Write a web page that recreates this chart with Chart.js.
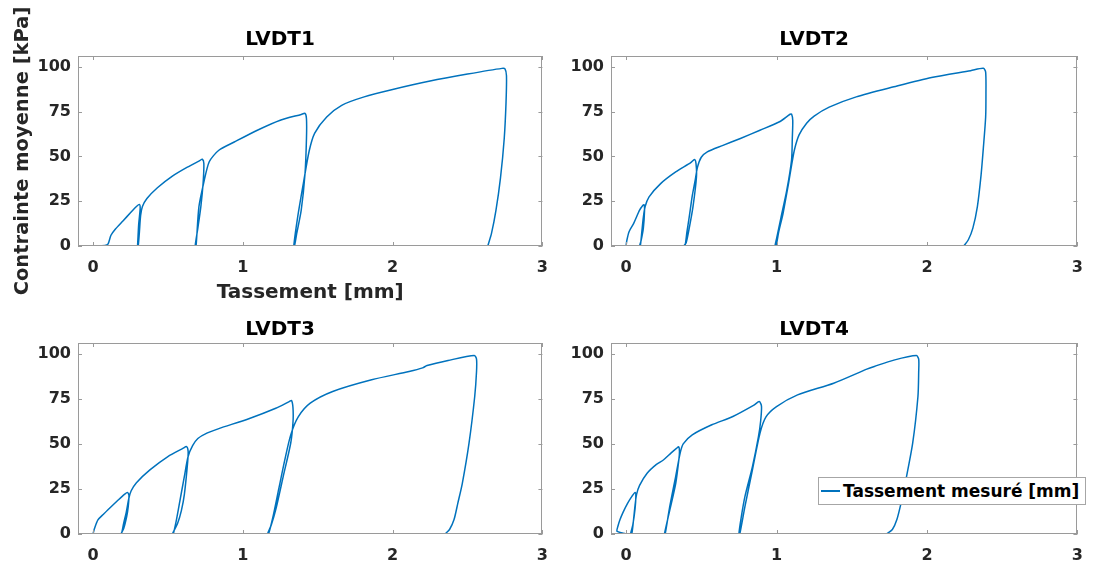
<!DOCTYPE html>
<html lang="fr">
<head>
<meta charset="utf-8">
<title>LVDT</title>
<script src="https://cdn.jsdelivr.net/npm/chart.js@4/dist/chart.umd.min.js"></script>
<style>
  html, body { margin: 0; padding: 0; background: #fff; overflow: hidden; }
  body { width: 1093px; height: 566px; position: relative; }
  canvas { position: absolute; }
  #c1 { left: 0; top: 0; }
  #c2 { left: 533px; top: 0; }
  #c3 { left: 0; top: 287px; }
  #c4 { left: 533px; top: 287px; }
  .legende {
    position: absolute; left: 818px; top: 477px; width: 268px; height: 28px;
    box-sizing: border-box; border: 1px solid #a6a6a6; background: #fff;
    display: flex; align-items: center;
    font: bold 17px "DejaVu Sans", sans-serif; color: #000; white-space: nowrap;
  }
  .legende .trait { display: inline-block; width: 19px; height: 1.5px; background: #0072BD; margin: 0 3px 0 2px; }
</style>
</head>
<body>
<canvas id="c1" width="560" height="310"></canvas>
<canvas id="c2" width="562" height="310"></canvas>
<canvas id="c3" width="560" height="279"></canvas>
<canvas id="c4" width="562" height="279"></canvas>
<div class="legende"><span class="trait"></span><span id="legendeTexte"></span></div>
<script>
const xTicks = [0, 1, 2, 3];
const yTicks = [0, 25, 50, 75, 100];
const titres = ['LVDT1', 'LVDT2', 'LVDT3', 'LVDT4'];
const nomSerie = 'Tassement mesuré [mm]';

// LVDT1
const tassement1 = [0, 0.08, 0.1, 0.12, 0.15, 0.2, 0.25, 0.29, 0.31, 0.315, 0.305, 0.3, 0.298, 0.302, 0.31, 0.318, 0.33, 0.36, 0.43, 0.53, 0.63, 0.71, 0.73, 0.74, 0.735, 0.72, 0.7, 0.682, 0.688, 0.707, 0.738, 0.776, 0.84, 0.943, 1.097, 1.25, 1.39, 1.415, 1.425, 1.425, 1.415, 1.39, 1.36, 1.345, 1.34, 1.366, 1.404, 1.443, 1.48, 1.56, 1.66, 1.81, 2.0, 2.25, 2.5, 2.73, 2.75, 2.76, 2.757, 2.745, 2.72, 2.69, 2.66, 2.635];
const contrainte1 = [0, 0.3, 1, 6, 9.5, 14, 18.5, 22, 23.2, 21, 12, 4, 0, 0, 8, 17, 22, 26.5, 32.5, 39, 44, 47.5, 48.4, 46, 35, 22, 10, 0, 0, 21.8, 34.8, 47, 53.4, 58, 64.6, 70.2, 73.4, 74, 71, 60, 40, 20, 7, 0, 0, 16, 34.8, 53, 63, 72, 78.5, 83.2, 87.3, 92, 95.9, 99.1, 98.8, 95, 80, 60, 38, 20, 7, 0];

// LVDT2
const tassement2 = [0, 0.005, 0.02, 0.05, 0.09, 0.11, 0.12, 0.123, 0.115, 0.1, 0.09, 0.095, 0.105, 0.115, 0.127, 0.153, 0.23, 0.33, 0.43, 0.455, 0.465, 0.468, 0.445, 0.42, 0.4, 0.385, 0.392, 0.405, 0.42, 0.44, 0.458, 0.475, 0.5, 0.54, 0.64, 0.76, 0.89, 1.02, 1.09, 1.1, 1.108, 1.105, 1.1, 1.068, 1.03, 1.0, 0.99, 0.997, 1.015, 1.043, 1.065, 1.08, 1.1, 1.12, 1.15, 1.2, 1.25, 1.35, 1.53, 1.78, 2.03, 2.29, 2.375, 2.39, 2.392, 2.39, 2.375, 2.36, 2.335, 2.305, 2.275, 2.245];
const contrainte2 = [0, 3, 8, 12.5, 20, 22.5, 23, 20, 10, 3, 0, 0, 8, 16, 22, 27.4, 34.8, 41.3, 46.5, 48.2, 46, 38.5, 22, 10, 2, 0, 0, 8, 16.2, 28, 36, 44, 49.5, 52.5, 56, 60, 64.6, 69.3, 73.5, 73.6, 70, 60, 48, 31, 16, 4, 0, 0, 8, 18, 28, 35, 45, 54, 62, 68.5, 72.5, 77.5, 83.2, 88.8, 94, 97.8, 99.1, 97, 85, 72, 55, 40, 22, 10, 3.5, 0];

// LVDT3
const tassement3 = [0, 0.01, 0.033, 0.07, 0.1, 0.17, 0.21, 0.23, 0.24, 0.235, 0.225, 0.205, 0.186, 0.19, 0.205, 0.222, 0.24, 0.255, 0.29, 0.38, 0.5, 0.6, 0.625, 0.635, 0.632, 0.61, 0.59, 0.565, 0.53, 0.536, 0.555, 0.575, 0.61, 0.635, 0.665, 0.7, 0.76, 0.84, 1.04, 1.22, 1.31, 1.325, 1.335, 1.335, 1.32, 1.27, 1.22, 1.19, 1.165, 1.172, 1.2, 1.24, 1.28, 1.32, 1.37, 1.45, 1.6, 1.86, 2.11, 2.2, 2.23, 2.37, 2.545, 2.56, 2.56, 2.548, 2.51, 2.465, 2.435, 2.41, 2.38, 2.35];
const contrainte3 = [0, 3, 7.8, 11, 13.5, 19, 22, 23.1, 21.5, 15, 9.6, 3, 0, 0, 6, 12, 20, 24, 28.5, 35.6, 43, 47.5, 48.5, 46, 40, 22, 13, 6, 0, 0, 7, 16, 32, 43, 49, 53, 56, 58.5, 64, 69.8, 73.5, 74.1, 70, 62, 50.5, 32, 13.5, 5, 0, 0, 9, 25, 41, 55, 65, 72.6, 79.1, 85.6, 90.2, 92.2, 93.5, 96.3, 99.1, 97, 90, 76.3, 50.4, 28, 17, 8, 2.5, 0];

// LVDT4
const tassement4 = [0, -0.02, -0.06, -0.055, -0.04, -0.02, 0.01, 0.04, 0.06, 0.065, 0.06, 0.045, 0.03, 0.038, 0.05, 0.06, 0.07, 0.09, 0.14, 0.2, 0.25, 0.3, 0.335, 0.35, 0.355, 0.352, 0.33, 0.29, 0.255, 0.26, 0.29, 0.33, 0.36, 0.38, 0.44, 0.57, 0.71, 0.85, 0.885, 0.9, 0.895, 0.88, 0.84, 0.79, 0.765, 0.75, 0.756, 0.79, 0.84, 0.89, 0.93, 1.0, 1.14, 1.38, 1.6, 1.65, 1.78, 1.93, 1.945, 1.945, 1.94, 1.905, 1.855, 1.83, 1.8, 1.77, 1.73];
const contrainte4 = [0, 0.5, 1.5, 4, 8, 12, 17, 21, 23, 21, 14, 5, 0, 0, 8, 16, 22, 27, 33.7, 38.5, 41.2, 45, 47.5, 48.4, 46, 42, 28, 13, 0, 0, 15, 32, 45, 50, 55, 60.6, 65.2, 71.5, 73.5, 71, 63, 54, 37.4, 20.7, 9, 0, 0, 15.2, 35.6, 55.9, 65, 70.7, 77.2, 83.7, 91.5, 93, 96.5, 99, 97, 90, 76.3, 50.4, 28, 18, 8, 2.5, 0];

const bleu = '#0072BD';
const gris = '#262626';
const couleurCadre = '#9a9a9a';
const police = 'DejaVu Sans';

// cadre complet + graduations vers l'intérieur (style MATLAB)
const cadre = {
  id: 'cadre',
  afterDatasetsDraw(chart) {
    const { ctx, chartArea: a, scales: { x, y } } = chart;
    ctx.save();
    ctx.strokeStyle = couleurCadre;
    ctx.lineWidth = 1;
    ctx.strokeRect(Math.round(a.left) + 0.5, Math.round(a.top) + 0.5, Math.round(a.width) - 1, Math.round(a.height) - 1);
    ctx.beginPath();
    x.ticks.forEach(t => {
      const px = Math.round(x.getPixelForValue(t.value)) + 0.5;
      ctx.moveTo(px, a.bottom); ctx.lineTo(px, a.bottom - 4);
      ctx.moveTo(px, a.top); ctx.lineTo(px, a.top + 4);
    });
    y.ticks.forEach(t => {
      const py = Math.round(y.getPixelForValue(t.value)) + 0.5;
      ctx.moveTo(a.left, py); ctx.lineTo(a.left + 4, py);
      ctx.moveTo(a.right, py); ctx.lineTo(a.right - 4, py);
    });
    ctx.stroke();
    ctx.restore();
  }
};

function creerGraphe(id, titre, xs, ys, enHaut, avecTitresAxes) {
  const points = xs.map((v, i) => ({ x: v, y: ys[i] }));
  return new Chart(document.getElementById(id), {
    type: 'scatter',
    data: {
      datasets: [{
        label: nomSerie,
        data: points,
        showLine: true,
        borderColor: bleu,
        borderWidth: 1.5,
        pointRadius: 0,
        tension: 0.25
      }]
    },
    options: {
      responsive: false,
      animation: false,
      layout: { padding: 0 },
      plugins: {
        legend: { display: false },
        tooltip: { enabled: false },
        title: {
          display: true,
          text: titre,
          color: '#000',
          font: { family: police, weight: 'bold', size: 20, lineHeight: 1.2 },
          padding: enHaut ? { top: 28, bottom: 4 } : { top: 31, bottom: 1 }
        }
      },
      scales: {
        x: {
          type: 'linear',
          min: -0.1,
          max: 3,
          afterBuildTicks: s => { s.ticks = xTicks.map(v => ({ value: v })); },
          afterFit: s => { s.height = enHaut ? 64 : 32; },
          grid: { display: false, drawTicks: false },
          border: { display: false },
          ticks: { color: gris, padding: 12, font: { family: police, weight: 'bold', size: 16 } },
          title: {
            display: avecTitresAxes,
            text: 'Tassement [mm]',
            color: gris,
            font: { family: police, weight: 'bold', size: 20, lineHeight: 1.2 },
            padding: { top: 0, bottom: 5 }
          }
        },
        y: {
          min: 0,
          max: 106,
          afterBuildTicks: s => { s.ticks = yTicks.map(v => ({ value: v })); },
          afterFit: s => { s.width = 78; },
          grid: { display: false, drawTicks: false },
          border: { display: false },
          ticks: { color: gris, padding: 7, font: { family: police, weight: 'bold', size: 16 } },
          title: {
            display: avecTitresAxes,
            text: 'Contrainte moyenne [kPa]',
            color: gris,
            font: { family: police, weight: 'bold', size: 19.5, lineHeight: 1.2 },
            padding: { top: 11, bottom: 0 }
          }
        }
      }
    },
    plugins: [cadre]
  });
}

creerGraphe('c1', titres[0], tassement1, contrainte1, true, true);
creerGraphe('c2', titres[1], tassement2, contrainte2, true, false);
creerGraphe('c3', titres[2], tassement3, contrainte3, false, false);
const g4 = creerGraphe('c4', titres[3], tassement4, contrainte4, false, false);

// légende posée sur le dernier graphe, comme dans la figure
document.getElementById('legendeTexte').textContent = g4.data.datasets[0].label;
</script>
</body>
</html>
